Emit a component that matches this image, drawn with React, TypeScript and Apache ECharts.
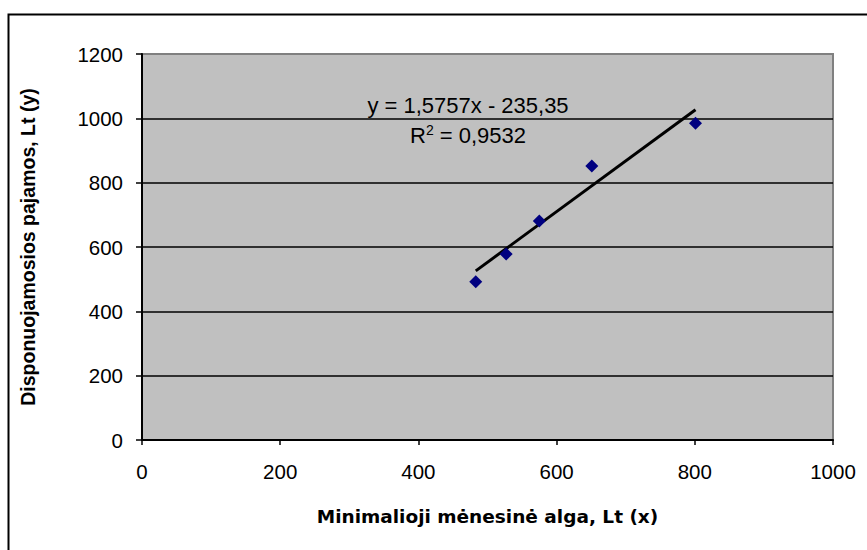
import React, { useEffect, useRef } from "react";
import * as echarts from "echarts";

const wageX = [483, 527, 575, 651, 801];
const incomeY = [492, 578, 681, 852, 985];
const trendSlope = 1.5757;
const trendIntercept = -235.35;
const equationText = "y = 1,5757x - 235,35";
const r2Value = "0,9532";
const xAxisTitle = "Minimalioji mėnesinė alga, Lt (x)";
const yAxisTitle = "Disponuojamosios pajamos, Lt (y)";

export default function App() {
  const ref = useRef<HTMLDivElement>(null);
  useEffect(() => {
    if (!ref.current) return;
    const chart = echarts.init(ref.current, undefined, { renderer: "svg" });
    const points = wageX.map((x, i) => [x, incomeY[i]]);
    const minX = Math.min(...wageX);
    const maxX = Math.max(...wageX);
    const trend = [minX, maxX].map((x) => [x, trendSlope * x + trendIntercept]);
    const font = "'Liberation Sans', Arial, sans-serif";
    const titleFont = "'DejaVu Sans', sans-serif";
    const plain = (v: number) => String(v);
    chart.setOption({
      animation: false,
      backgroundColor: "#ffffff",
      grid: {
        left: 142,
        top: 54,
        right: 34,
        bottom: 110,
        show: true,
        backgroundColor: "#C0C0C0",
        borderColor: "#808080",
        borderWidth: 2,
      },
      xAxis: {
        type: "value",
        min: 0,
        max: 1000,
        interval: 200,
        name: xAxisTitle,
        nameLocation: "middle",
        nameGap: 67,
        nameTextStyle: { fontFamily: titleFont, fontWeight: "bold", fontSize: 18.5, color: "#000" },
        axisLine: { show: true, onZero: false, lineStyle: { color: "#000", width: 2 } },
        axisTick: { show: true, length: 5, lineStyle: { color: "#000", width: 1.5 } },
        axisLabel: { fontFamily: font, fontSize: 20.5, color: "#000", margin: 21, formatter: plain },
        splitLine: { show: false },
      },
      yAxis: {
        type: "value",
        min: 0,
        max: 1200,
        interval: 200,
        name: yAxisTitle,
        nameLocation: "middle",
        nameGap: 104,
        nameTextStyle: { fontFamily: font, fontWeight: "bold", fontSize: 19.5, color: "#000" },
        axisLine: { show: true, onZero: false, lineStyle: { color: "#000", width: 2 } },
        axisTick: { show: true, length: 6, lineStyle: { color: "#000", width: 1.5 } },
        axisLabel: { fontFamily: font, fontSize: 20.5, color: "#000", margin: 19, formatter: plain },
        splitLine: {
          show: true,
          lineStyle: {
            color: ["#000", "#000", "#000", "#000", "#000", "#000", "#808080"],
            width: 1.5,
          },
        },
      },
      graphic: [
        {
          type: "polyline",
          shape: { points: [[8.5, 600], [8.5, 14.5], [900, 14.5]] },
          style: { stroke: "#000", lineWidth: 2, fill: "none" },
          z: 10,
        },
        {
          type: "text",
          x: 468,
          y: 105,
          style: {
            text: equationText,
            font: `22px ${font}`,
            fill: "#000",
            align: "center",
            verticalAlign: "middle",
          },
          z: 10,
        },
        {
          type: "text",
          x: 468,
          y: 135,
          style: {
            text: `R{sup|2} = ${r2Value}`,
            font: `22px ${font}`,
            fill: "#000",
            align: "center",
            verticalAlign: "middle",
            rich: {
              sup: { fontSize: 14, fontFamily: font, padding: [0, 0, 10, 0], fill: "#000" },
            },
          },
          z: 10,
        },
      ],
      series: [
        {
          type: "line",
          data: trend,
          symbol: "none",
          lineStyle: { color: "#000", width: 3 },
          z: 2,
        },
        {
          type: "scatter",
          data: points,
          symbol: "diamond",
          symbolSize: 13,
          itemStyle: { color: "#000080", opacity: 1 },
          z: 3,
        },
      ],
    });
    return () => chart.dispose();
  }, []);
  return (
    <div
      ref={ref}
      style={{ position: "absolute", left: 0, top: 0, width: 867, height: 550 }}
    />
  );
}
